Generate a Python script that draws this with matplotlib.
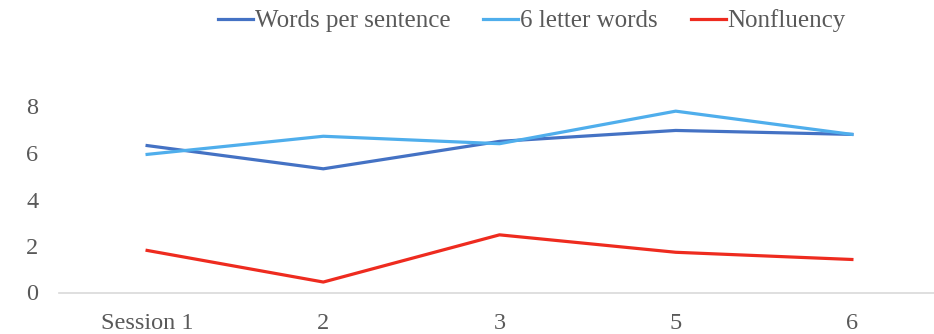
import numpy as np
import matplotlib.pyplot as plt

plt.rcParams['font.family'] = ['Liberation Serif', 'DejaVu Serif']

sessions = ["Session 1", "2", "3", "5", "6"]
words_per_sentence = [6.32, 5.32, 6.50, 6.97, 6.80]
six_letter_words = [5.94, 6.72, 6.40, 7.80, 6.80]
nonfluency = [1.81, 0.45, 2.48, 1.73, 1.42]

text_col = "#595959"

fig = plt.figure(figsize=(9.34, 3.34), dpi=100)
ax = fig.add_axes([59 / 934, 41.5 / 334, 881 / 934, 232.5 / 334])

x = np.arange(len(sessions))
ax.plot(x, words_per_sentence, color="#4472C4", lw=2.3, label="Words per sentence")
ax.plot(x, six_letter_words, color="#4FAEEC", lw=2.3, label="6 letter words")
ax.plot(x, nonfluency, color="#EE2B1F", lw=2.3, label="Nonfluency")

ax.set_xlim(-0.5, 4.5)
ax.set_ylim(0, 10)
ax.set_xticks(x)
ax.set_xticklabels(sessions)
ax.set_yticks([0, 2, 4, 6, 8])
ax.tick_params(length=0, labelsize=17.5, colors=text_col)
ax.tick_params(axis='x', pad=15)
ax.tick_params(axis='y', pad=15)
for s in ["top", "right", "left"]:
    ax.spines[s].set_visible(False)
ax.spines["bottom"].set_color("#D9D9D9")
ax.spines["bottom"].set_linewidth(1.2)

leg = fig.legend(loc="center", bbox_to_anchor=(532 / 934, 1 - 21 / 334), ncol=3,
                 frameon=False, fontsize=18, handlelength=1.4, handletextpad=0.08,
                 columnspacing=1.3, borderpad=0)
for t in leg.get_texts():
    t.set_color(text_col)

fig.savefig("out.png", dpi=100)
